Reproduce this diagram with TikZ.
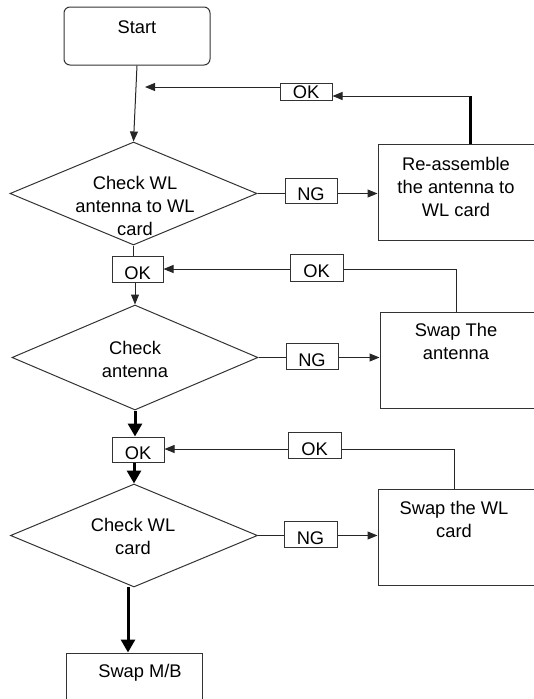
\documentclass[tikz,border=0pt]{standalone}
\usepackage{fontspec}
\setmainfont{Liberation Sans}
\usetikzlibrary{shapes.geometric,arrows.meta}
\begin{document}
\begin{tikzpicture}[x=1pt,y=-1pt,
  font=\fontsize{18.3}{23}\selectfont,
  box/.style={draw=black!80, line width=1pt, inner sep=0pt},
  okbox/.style={box, text height=20pt, text depth=0pt},
  dia/.style={diamond, draw=black!80, line width=1pt, inner sep=0pt},
  txt/.style={align=center, inner sep=0pt},
  conn/.style={draw=black!85, line width=1pt},
  arr/.style={conn, -{Triangle[length=10pt,width=8pt]}},
  boldline/.style={draw=black, line width=3pt},
  boldarr/.style={draw=black, line width=3pt, -{Triangle[length=13pt,width=14pt]}}
]
\path[use as bounding box, clip] (0,0) rectangle (534,699);

% nodes
\node[box, rounded corners=6pt, minimum width=146pt, minimum height=58pt] (start) at (137,36) {};
\node[txt] (startT) at (137,27) {Start};

\node[dia, minimum width=247pt, minimum height=103pt] (d1) at (133.5,193.5) {};
\node[txt] (d1T) at (135,206) {Check WL\\antenna to WL\\card};

\node[box, text height=14pt, text depth=0pt, minimum width=52pt, minimum height=17pt] (ok1) at (306,91.5) {OK};
\node[okbox, minimum width=52pt, minimum height=25pt] (ng1) at (311,190.5) {NG};
\node[box, minimum width=167pt, minimum height=96pt] (reasm) at (461.5,192) {};
\node[txt] (reasmT) at (456,187) {Re-assemble\\the antenna to\\WL card};

\node[okbox, minimum width=51pt, minimum height=26pt] (ok2) at (137.5,269) {OK};
\node[okbox, minimum width=53pt, minimum height=27pt] (ok3) at (316.5,267.5) {OK};
\node[box, minimum width=165pt, minimum height=96pt] (swap1) at (462.5,360) {};
\node[txt] (swap1T) at (456,341) {Swap The\\antenna};

\node[dia, minimum width=246pt, minimum height=105pt] (d2) at (135,357.5) {};
\node[txt] (d2T) at (135,359) {Check\\antenna};
\node[okbox, minimum width=52pt, minimum height=26pt] (ng2) at (312,356) {NG};

\node[okbox, minimum width=52pt, minimum height=25pt] (ok4) at (138,449.5) {OK};
\node[okbox, minimum width=53pt, minimum height=26pt] (ok5) at (314.5,445) {OK};
\node[box, minimum width=167pt, minimum height=96pt] (swap2) at (461.5,537) {};
\node[txt] (swap2T) at (454,519) {Swap the WL\\card};

\node[dia, minimum width=247pt, minimum height=103pt] (d3) at (134,535.5) {};
\node[txt] (d3T) at (133,536) {Check WL\\card};
\node[okbox, minimum width=53pt, minimum height=26pt] (ng3) at (310.5,534) {NG};

\node[box, minimum width=136pt, minimum height=62pt] (mb) at (134,684) {};
\node[txt] (mbT) at (140,673) {Swap M/B};

% coordinates
\coordinate (e1) at (145,87);
\coordinate (k1) at (470,96);
\coordinate (y2) at (0,269);
\coordinate (c3) at (456,269);
\coordinate (c5) at (454,449);
\coordinate (m1) at (128,587);

% connectors
\draw[arr] (start.south) -- (d1.north);
\draw[arr] (ok1.west |- e1) -- (e1);
\draw[boldline] (reasm.north -| k1) -- (k1);
\draw[arr] (k1) -- (ok1.east |- k1);
\draw[conn] (d1.east) -- (ng1.west |- d1.east);
\draw[arr] (ng1.east |- d1.east) -- (reasm.west |- d1.east);

\draw[conn] (d1.south) -- (d1.south |- ok2.north);
\draw[arr] (ok2.south -| d2.north) -- (d2.north);
\draw[arr] (ok3.west |- y2) -- (ok2.east |- y2);
\draw[conn] (ok3.east |- c3) -- (c3) -- (c3 |- swap1.north);
\draw[conn] (d2.east) -- (ng2.west |- d2.east);
\draw[arr] (ng2.east |- d2.east) -- (swap1.west |- d2.east);

\draw[boldarr] (d2.south) -- (d2.south |- ok4.north);
\draw[arr] (ok5.west |- c5) -- (ok4.east |- c5);
\draw[conn] (ok5.east |- c5) -- (c5) -- (c5 |- swap2.north);
\draw[boldarr] (ok4.south -| d3.north) -- (d3.north);
\draw[conn] (d3.east) -- (ng3.west |- d3.east);
\draw[arr] (ng3.east |- d3.east) -- (swap2.west |- d3.east);
\draw[boldarr] (m1) -- (m1 |- mb.north);
\end{tikzpicture}
\end{document}
